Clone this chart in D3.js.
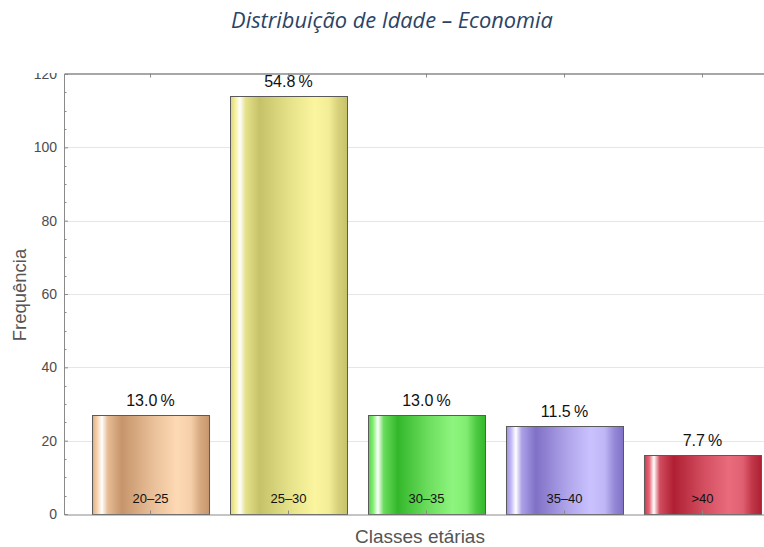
<!DOCTYPE html>
<html>
<head>
<meta charset="utf-8">
<script src="https://cdn.jsdelivr.net/npm/d3@7"></script>
<style>
  body { margin: 0; background: #fff; }
  svg { display: block; font-family: "Liberation Sans", Arial, sans-serif; }
</style>
</head>
<body>
<div id="chart"></div>
<script>
// data
var categories = ['20\u201325', '25\u201330', '30\u201335', '35\u201340', '>40'];
var counts = [27, 114, 27, 24, 16];
var yTicks = [0, 20, 40, 60, 80, 100, 120];
// [dark, light] per bar
var barColors = [
  ['#c6946a', '#fdd9b4'],
  ['#c6c26a', '#faf59e'],
  ['#33b72a', '#8ef57e'],
  ['#8070c6', '#cac2ff'],
  ['#b01f33', '#e96c7c']
];

function drawBars(divId) {
  var width = 764, height = 547;
  var left = 64, right = 789, top = 74, bottom = 514;

  var svg = d3.select(divId)
    .append('svg')
    .attr('width', width)
    .attr('height', height);

  var total = d3.sum(counts);

  var x = d3.scaleBand()
    .domain(categories)
    .range([left, right])
    .paddingInner(0.152)
    .paddingOuter(0.203);

  var y = d3.scaleLinear()
    .domain([0, 120])
    .range([bottom, top]);

  // glassy horizontal gradients
  var defs = svg.append('defs');
  barColors.forEach(function(c, i) {
    var mid = d3.interpolateRgb(c[0], c[1]);
    var g = defs.append('linearGradient')
      .attr('id', 'grad' + i)
      .attr('x1', '0%').attr('x2', '100%')
      .attr('y1', '0%').attr('y2', '0%');
    var stops = [
      [0, mid(0.4)],
      [0.04, mid(0.9)],
      [0.08, '#ffffff'],
      [0.13, mid(0.6)],
      [0.25, c[0]],
      [0.5, mid(0.6)],
      [0.72, c[1]],
      [0.84, mid(0.85)],
      [0.92, mid(0.3)],
      [1, c[0]]
    ];
    stops.forEach(function(s) {
      g.append('stop').attr('offset', s[0]).attr('stop-color', s[1]);
    });
  });

  // clip for the y labels (the top one gets cut at the frame)
  defs.append('clipPath').attr('id', 'plotclip')
    .append('rect').attr('x', -left).attr('y', top - 1).attr('width', width).attr('height', height);

  // gridlines
  svg.append('g')
    .selectAll('line')
    .data(yTicks.filter(function(d) { return d > 0 && d < 120; }))
    .enter()
    .append('line')
    .attr('x1', left).attr('x2', width)
    .attr('y1', function(d) { return Math.round(y(d)) + 0.5; })
    .attr('y2', function(d) { return Math.round(y(d)) + 0.5; })
    .attr('stroke', '#e6e6e6')
    .attr('stroke-width', 1);

  // bars
  svg.append('g')
    .selectAll('rect')
    .data(counts)
    .enter()
    .append('rect')
    .attr('x', function(d, i) { return x(categories[i]) + 0.5; })
    .attr('y', function(d) { return Math.round(y(d)) + 0.5; })
    .attr('width', x.bandwidth())
    .attr('height', function(d) { return bottom - Math.round(y(d)); })
    .attr('fill', function(d, i) { return 'url(#grad' + i + ')'; })
    .attr('stroke', '#5a5a5a')
    .attr('stroke-width', 1);

  // percent labels
  svg.append('g')
    .selectAll('text')
    .data(counts)
    .enter()
    .append('text')
    .attr('x', function(d, i) { return x(categories[i]) + x.bandwidth() / 2; })
    .attr('y', function(d) { return y(d) - 9; })
    .attr('text-anchor', 'middle')
    .attr('font-size', 16)
    .attr('fill', '#111')
    .text(function(d) { return (d / total * 100).toFixed(1) + '\u2009%'; });

  // category labels inside bars
  svg.append('g')
    .selectAll('text')
    .data(categories)
    .enter()
    .append('text')
    .attr('x', function(d) { return x(d) + x.bandwidth() / 2; })
    .attr('y', bottom - 11)
    .attr('text-anchor', 'middle')
    .attr('font-size', 13)
    .attr('fill', '#111')
    .text(function(d) { return d; });

  var axisColor = '#8a8a8a';

  // left axis
  var yAxis = svg.append('g')
    .attr('transform', 'translate(' + left + ',0)')
    .attr('clip-path', 'url(#plotclip)')
    .attr('font-size', 14)
    .call(d3.axisLeft(y).tickValues(yTicks).tickSize(-4).tickPadding(7));
  yAxis.attr('font-size', 14).attr('font-family', '"Liberation Sans", Arial, sans-serif');
  yAxis.select('.domain').attr('stroke', axisColor);
  yAxis.selectAll('.tick line').attr('stroke', axisColor);
  yAxis.selectAll('.tick text')
    .style('font-size', '14px')
    .attr('fill', '#4d4d4d');

  // minor ticks
  svg.append('g')
    .selectAll('line')
    .data(d3.range(5, 120, 5).filter(function(d) { return d % 20 !== 0; }))
    .enter()
    .append('line')
    .attr('x1', left).attr('x2', left + 2.5)
    .attr('y1', function(d) { return Math.round(y(d)) + 0.5; })
    .attr('y2', function(d) { return Math.round(y(d)) + 0.5; })
    .attr('stroke', axisColor);

  // bottom axis
  var xAxis = svg.append('g')
    .attr('transform', 'translate(0,' + (bottom + 0.5) + ')')
    .call(d3.axisBottom(x).tickSize(-4).tickSizeOuter(0).tickFormat(''));
  xAxis.select('.domain').attr('stroke', axisColor);
  xAxis.selectAll('.tick line').attr('stroke', axisColor);

  // top frame
  var topAxis = svg.append('g')
    .attr('transform', 'translate(0,' + (top - 0.5) + ')')
    .call(d3.axisTop(x).tickSize(-4).tickSizeOuter(0).tickFormat(''));
  topAxis.select('.domain').attr('stroke', axisColor).attr('stroke-width', 1.5);
  topAxis.selectAll('.tick line').attr('stroke', axisColor);

  // axis titles
  svg.append('text')
    .attr('transform', 'translate(26,' + ((top + bottom) / 2 + 1) + ') rotate(-90)')
    .attr('text-anchor', 'middle')
    .attr('font-size', 18.5)
    .attr('fill', '#555')
    .text('Frequ\u00eancia');

  svg.append('text')
    .attr('x', 420)
    .attr('y', 543)
    .attr('text-anchor', 'middle')
    .attr('font-size', 19)
    .attr('fill', '#555')
    .text('Classes et\u00e1rias');

  // title
  svg.append('text')
    .attr('x', 392)
    .attr('y', 28)
    .attr('text-anchor', 'middle')
    .attr('font-size', 21.8)
    .attr('font-style', 'italic')
    .attr('font-family', '"Open Sans", "Noto Sans", sans-serif')
    .attr('fill', '#2b4466')
    .text('Distribui\u00e7\u00e3o de Idade \u2013 Economia');
}

drawBars('#chart');
</script>
</body>
</html>
